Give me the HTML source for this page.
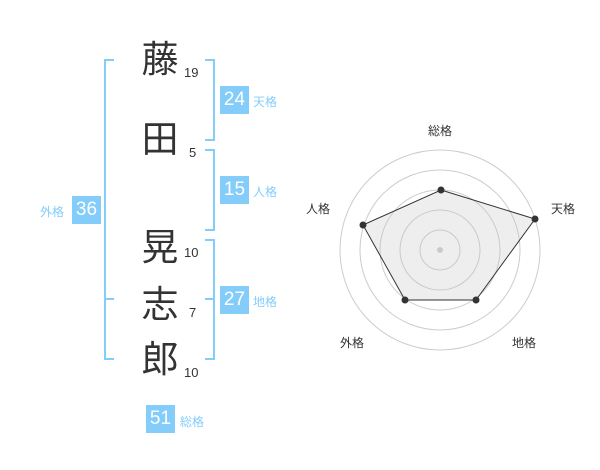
<!DOCTYPE html>
<html><head><meta charset="utf-8"><style>
body{margin:0;width:600px;height:470px;background:#fff;position:relative;overflow:hidden;font-family:"Liberation Sans","Noto Sans CJK JP",sans-serif}
.k{position:absolute;left:138px;width:44px;text-align:center;font-size:37px;color:#333;line-height:40px}
.n{position:absolute;font-size:13px;color:#333;line-height:14px}
.b{position:absolute;background:#84cdfb;color:#fff;font-size:19px;width:29px;height:28px;line-height:28px;text-align:center}
.l{position:absolute;color:#84cdfb;font-size:12px;line-height:14px}
.v{position:absolute;background:#84cdfb;width:2px}
.h{position:absolute;background:#84cdfb;height:2px;width:10px}
</style></head><body>
<div class="k" style="top:40px">藤</div>
<div class="k" style="top:120px">田</div>
<div class="k" style="top:228px">晃</div>
<div class="k" style="top:285px">志</div>
<div class="k" style="top:340px">郎</div>
<div class="n" style="left:184px;top:66px">19</div>
<div class="n" style="left:189px;top:146px">5</div>
<div class="n" style="left:184px;top:246px">10</div>
<div class="n" style="left:189px;top:306px">7</div>
<div class="n" style="left:184px;top:366px">10</div>
<div class="v" style="left:104px;top:59px;height:301px"></div>
<div class="h" style="left:104px;top:59px"></div>
<div class="h" style="left:104px;top:298px"></div>
<div class="h" style="left:104px;top:358px"></div>
<div class="v" style="left:213px;top:59px;height:82px"></div>
<div class="h" style="left:205px;top:59px"></div>
<div class="h" style="left:205px;top:139px"></div>
<div class="v" style="left:213px;top:149px;height:82px"></div>
<div class="h" style="left:205px;top:149px"></div>
<div class="h" style="left:205px;top:229px"></div>
<div class="v" style="left:213px;top:239px;height:121px"></div>
<div class="h" style="left:205px;top:239px"></div>
<div class="h" style="left:205px;top:298px"></div>
<div class="h" style="left:205px;top:358px"></div>
<div class="b" style="left:220px;top:86px">24</div><div class="l" style="left:253px;top:95px">天格</div>
<div class="b" style="left:220px;top:176px">15</div><div class="l" style="left:253px;top:185px">人格</div>
<div class="b" style="left:220px;top:286px">27</div><div class="l" style="left:253px;top:295px">地格</div>
<div class="b" style="left:72px;top:196px">36</div><div class="l" style="left:40px;top:205px">外格</div>
<div class="b" style="left:146px;top:405px">51</div><div class="l" style="left:180px;top:415px">総格</div>
<svg style="position:absolute;left:0;top:0" width="600" height="470">
<g fill="none" stroke="#ccc" stroke-width="1">
<circle cx="440" cy="250" r="100"/><circle cx="440" cy="250" r="80"/><circle cx="440" cy="250" r="60"/><circle cx="440" cy="250" r="40"/><circle cx="440" cy="250" r="20"/>
</g>
<circle cx="440" cy="250" r="3" fill="#ccc"/>
<polygon points="441,190 535,219 476,300 405,300 363,225" fill="rgba(200,200,200,0.3)" stroke="#333" stroke-width="1"/>
<g fill="#333"><circle cx="441" cy="190" r="3.5"/><circle cx="535" cy="219" r="3.5"/><circle cx="476" cy="300" r="3.5"/><circle cx="405" cy="300" r="3.5"/><circle cx="363" cy="225" r="3.5"/></g>
<g font-size="12" fill="#333" text-anchor="middle" font-family="Liberation Sans,Noto Sans CJK JP,sans-serif">
<text x="440" y="135">総格</text><text x="563" y="213">天格</text><text x="318" y="213">人格</text><text x="352" y="347">外格</text><text x="524" y="347">地格</text>
</g></svg>
</body></html>
